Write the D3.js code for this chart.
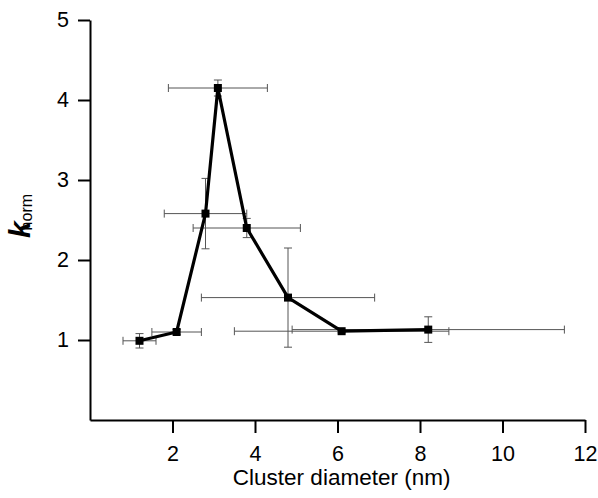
<!DOCTYPE html>
<meta charset="utf-8">
<script src="https://d3js.org/d3.v7.min.js"></script>
<style>
  body { margin: 0; background: #fff; }
  .errbar { stroke: #555; stroke-width: 1px; }
</style>

<div id="wrapper"></div>

<script>
  // Data
  const diameter = [1.2, 2.1, 2.8, 3.1, 3.8, 4.8, 6.1, 8.2];
  const diameterErr = [0.4, 0.6, 1.0, 1.2, 1.3, 2.1, 2.6, 3.3];
  const kNorm = [0.99, 1.10, 2.58, 4.15, 2.40, 1.53, 1.11, 1.13];
  const kNormErr = [0.09, 0.03, 0.44, 0.10, 0.12, 0.62, 0.02, 0.16];
  const xTicks = [2, 4, 6, 8, 10, 12];
  const yTicks = [1, 2, 3, 4, 5];

  const W = 598, H = 498;
  const margin = { top: 20, right: 13, bottom: 78, left: 90 },
    width = W - margin.left - margin.right,
    height = H - margin.top - margin.bottom;

  const svg = d3.select("#wrapper")
    .append("svg")
    .attr("width", W)
    .attr("height", H)
    .append("g")
    .attr("transform", `translate(${margin.left},${margin.top})`);

  const data = diameter.map((d, i) => ({
    x: d, xe: diameterErr[i], y: kNorm[i], ye: kNormErr[i]
  }));

  const x = d3.scaleLinear().domain([0, 12]).range([0, width]);
  const y = d3.scaleLinear().domain([0, 5]).range([height, 0]);

  // X axis
  const xAxis = svg.append("g")
    .attr("transform", `translate(0,${height})`)
    .call(d3.axisBottom(x).tickValues(xTicks).tickFormat(d3.format("d"))
      .tickSize(13).tickPadding(13).tickSizeOuter(0));
  // Y axis
  const yAxis = svg.append("g")
    .call(d3.axisLeft(y).tickValues(yTicks).tickFormat(d3.format("d"))
      .tickSize(12).tickPadding(9).tickSizeOuter(0));

  [xAxis, yAxis].forEach(a => {
    a.select(".domain").attr("stroke", "#000").attr("stroke-width", 2);
    a.selectAll(".tick line").attr("stroke", "#000").attr("stroke-width", 2);
    a.selectAll(".tick text")
      .attr("fill", "#000")
      .style("font-family", "Liberation Sans, Arial, sans-serif")
      .style("font-size", "21.5px");
  });

  svg.append("text")
    .attr("text-anchor", "middle")
    .attr("x", x(6.1))
    .attr("y", height + 65)
    .style("font-family", "Liberation Sans, Arial, sans-serif")
    .style("font-size", "22.5px")
    .text("Cluster diameter (nm)");

  // Y label: k with subscript "norm"
  const ylab = svg.append("text")
    .attr("transform", `translate(${-60},${y(2.55)}) rotate(-90)`)
    .attr("text-anchor", "middle")
    .style("font-family", "Liberation Sans, Arial, sans-serif");
  ylab.append("tspan")
    .style("font-size", "30px")
    .style("font-weight", "bold")
    .style("font-style", "italic")
    .text("k");
  ylab.append("tspan")
    .attr("dx", -9)
    .attr("dy", 2)
    .style("font-size", "16px")
    .text("norm");

  // Error bars
  const cap = 4;
  const eb = svg.append("g").attr("class", "errbar");
  data.forEach(d => {
    // horizontal
    eb.append("line")
      .attr("x1", x(d.x - d.xe)).attr("x2", x(d.x + d.xe))
      .attr("y1", y(d.y)).attr("y2", y(d.y));
    [d.x - d.xe, d.x + d.xe].forEach(v => {
      eb.append("line")
        .attr("x1", x(v)).attr("x2", x(v))
        .attr("y1", y(d.y) - cap).attr("y2", y(d.y) + cap);
    });
    // vertical
    eb.append("line")
      .attr("x1", x(d.x)).attr("x2", x(d.x))
      .attr("y1", y(d.y - d.ye)).attr("y2", y(d.y + d.ye));
    [d.y - d.ye, d.y + d.ye].forEach(v => {
      eb.append("line")
        .attr("x1", x(d.x) - cap).attr("x2", x(d.x) + cap)
        .attr("y1", y(v)).attr("y2", y(v));
    });
  });

  // Line
  const line = d3.line().x(d => x(d.x)).y(d => y(d.y));
  svg.append("path")
    .datum(data)
    .attr("fill", "none")
    .attr("stroke", "#000")
    .attr("stroke-width", 3.2)
    .attr("stroke-linejoin", "miter")
    .attr("d", line);

  // Markers
  const ms = 8;
  svg.append("g")
    .selectAll("rect")
    .data(data)
    .join("rect")
    .attr("x", d => x(d.x) - ms / 2)
    .attr("y", d => y(d.y) - ms / 2)
    .attr("width", ms)
    .attr("height", ms)
    .attr("fill", "#000");
</script>
